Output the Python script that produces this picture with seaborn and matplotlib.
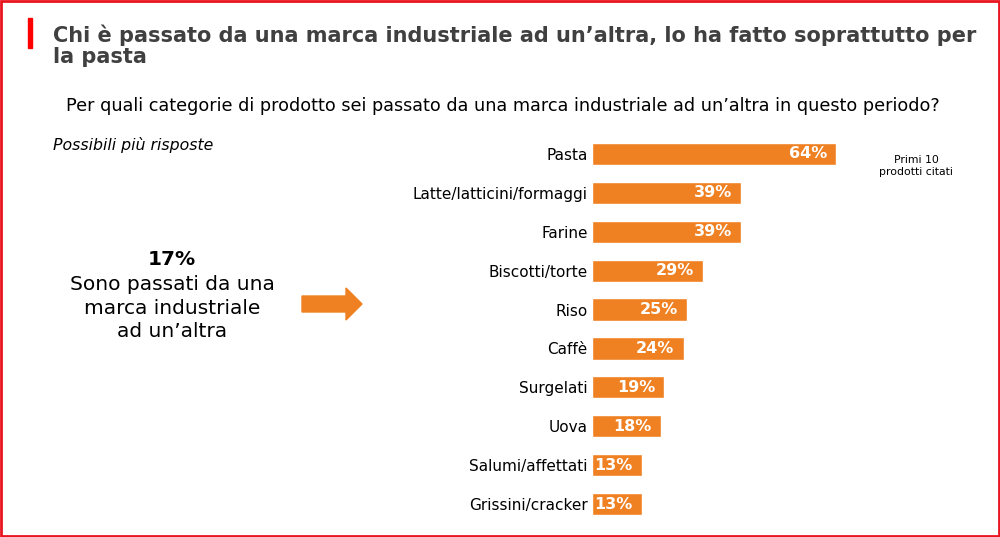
import matplotlib
matplotlib.use("Agg")
import matplotlib.pyplot as plt
from matplotlib.patches import Rectangle, FancyArrow
import pandas as pd
import seaborn as sns

categories = ["Pasta", "Latte/latticini/formaggi", "Farine", "Biscotti/torte", "Riso",
              "Caffè", "Surgelati", "Uova", "Salumi/affettati", "Grissini/cracker"]
values = [64, 39, 39, 29, 25, 24, 19, 18, 13, 13]

title = "Chi è passato da una marca industriale ad un’altra, lo ha fatto soprattutto per\nla pasta"
question = "Per quali categorie di prodotto sei passato da una marca industriale ad un’altra in questo periodo?"
note = "Possibili più risposte"
side_pct = "17%"
side_text = "Sono passati da una\nmarca industriale\nad un’altra"
top_note = "Primi 10\nprodotti citati"

ORANGE = "#F08122"
GREY = "#404040"
RED = "#E8141E"

sns.set_theme(style="white")
plt.rcParams["font.family"] = ["DejaVu Sans"]

df = pd.DataFrame({"categoria": categories, "valore": values})

fig = plt.figure(figsize=(10, 5.37), dpi=100)
ax = fig.add_axes([0.592, 1 - 523.5 / 537, 0.2669, 389 / 537])
sns.barplot(data=df, y="categoria", x="valore", orient="h", color=ORANGE,
            saturation=1, width=0.57, ax=ax)
ax.set_xlim(0, 70)
ax.set_ylim(len(categories) - 0.5, -0.5)
ax.set_xlabel("")
ax.set_ylabel("")
ax.set_xticks([])
ax.tick_params(axis="y", length=0, pad=3, labelsize=11, labelcolor="black")
sns.despine(ax=ax, left=True, bottom=True)

for i, v in enumerate(values):
    ax.annotate(f"{v}%", xy=(v, i), xytext=(-6.5, 0), textcoords="offset points",
                ha="right", va="center", color="white", fontsize=11.5, fontweight="bold")

# titolo e testi
fig.patches.append(Rectangle((28 / 1000, 1 - 48 / 537), 4 / 1000, 30 / 537,
                             transform=fig.transFigure, color="#FF0000", zorder=3))
fig.text(53 / 1000, 1 - 24 / 537, title, ha="left", va="top", fontsize=15,
         fontweight="bold", color=GREY, linespacing=1.12)
fig.text(66 / 1000, 1 - 106 / 537, question, ha="left", va="center", fontsize=12.7, color="black")
fig.text(53 / 1000, 1 - 145 / 537, note, ha="left", va="center", fontsize=11.3,
         style="italic", color="black")
fig.text(916 / 1000, 1 - 166 / 537, top_note, ha="center", va="center", fontsize=7.8,
         color="black", linespacing=1.3)

fig.text(172 / 1000, 1 - 260 / 537, side_pct, ha="center", va="center", fontsize=14.5,
         fontweight="bold", color="black")
fig.text(172 / 1000, 1 - 308 / 537, side_text, ha="center", va="center", fontsize=14.5,
         color="black", linespacing=1.27)

# freccia
arrow = FancyArrow(302 / 1000, 1 - 304 / 537, 60 / 1000, 0, width=16 / 537,
                   head_width=32 / 537, head_length=16 / 1000, length_includes_head=True,
                   transform=fig.transFigure, color=ORANGE, zorder=3)
fig.patches.append(arrow)

# cornice rossa
fig.patches.append(Rectangle((0.001, 0.002), 0.998, 0.996, transform=fig.transFigure,
                             fill=False, edgecolor=RED, linewidth=2, zorder=5))

fig.savefig("out.png", dpi=100)
